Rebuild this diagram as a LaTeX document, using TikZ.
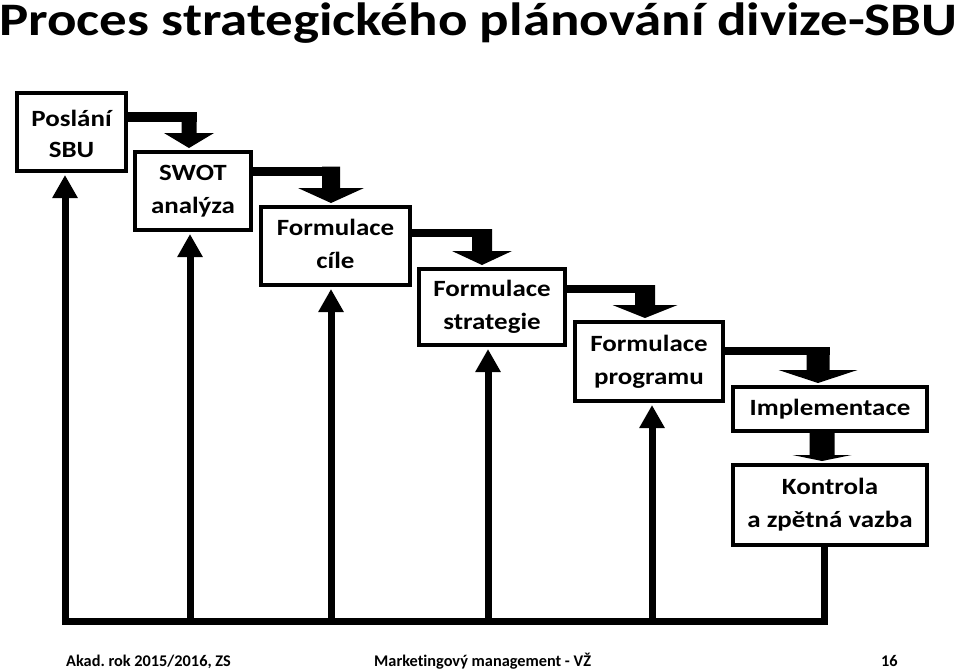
\documentclass[tikz,border=0pt]{standalone}
\usepackage{fontspec}
\usepackage{graphicx}
\setmainfont{Carlito}[Ligatures=NoCommon]
\frenchspacing
\usetikzlibrary{arrows.meta,calc}
\newcommand\stx[1]{\scalebox{1.157}[1]{#1}\rule[-5pt]{0pt}{22pt}}
\newcommand\mydconn[8]{% from, to, bar y, bar thickness, shaft x, shaft w, head w, head len
  \coordinate (tp) at ($(#2.north -| #5,0)+(0,-2)$);
  \draw[line width=#4pt] (#1.east |- 0,#3) -- (#5+#6/2,#3);
  \fill (tp) -- ($(tp)+(-#7/2,-#8)$) -- ($(tp)+(-#6/2,-#8)$) -- (#5-#6/2,#3-#4/2)
        -- (#5+#6/2,#3-#4/2) -- ($(tp)+(#6/2,-#8)$) -- ($(tp)+(#7/2,-#8)$) -- cycle;
}
\begin{document}
\begin{tikzpicture}[x=1pt,y=-1pt,
  box/.style={draw,line width=4pt,rectangle,inner sep=0pt,align=center,
    font=\bfseries\fontsize{23.3}{33}\selectfont},
  fb/.style={line width=7pt,line join=miter},
  fbtip/.style={fb,{Triangle[width=24pt,length=23pt]}-},
  foot/.style={anchor=base west,inner sep=0pt,font=\bfseries\fontsize{16.3}{20}\selectfont},
]
\useasboundingbox (0,0) rectangle (960,670);

\node[anchor=base west,inner sep=0pt,font=\bfseries\fontsize{46.6}{50}\selectfont] (title) at (-1,35) {\scalebox{1.18}[1]{Proces strategického plánování divize-SBU}};

\node[box,minimum width=109pt,minimum height=78pt] (p)  at (71.5,132) {\stx{Poslání}\rule{0pt}{25pt}\\[-1.5pt]\stx{SBU}};
\node[box,minimum width=116pt,minimum height=78pt] (s)  at (193,191) {\stx{SWOT}\\\stx{analýza}};
\node[box,minimum width=149pt,minimum height=78pt] (c)  at (335.5,246) {\stx{Formulace}\\\stx{cíle}};
\node[box,minimum width=146pt,minimum height=76pt] (st) at (492,307) {\stx{Formulace}\\\stx{strategie}};
\node[box,minimum width=148pt,minimum height=79pt] (pg) at (649,361.5) {\stx{Formulace}\\\stx{programu}};
\node[box,minimum width=194pt,minimum height=44pt] (im) at (830,409) {\stx{Implementace}};
\node[box,minimum width=194pt,minimum height=80pt] (ko) at (830,505) {\stx{Kontrola}\\\stx{a zpětná vazba}};

% forward connectors
\mydconn{p}{s}{117}{10}{189}{15}{50}{15}
\mydconn{s}{c}{171}{9}{331}{18}{66}{15}
\mydconn{c}{st}{233}{8}{482}{20}{60}{14}
\mydconn{st}{pg}{289}{8}{645}{20}{65}{13}
\mydconn{pg}{im}{351}{8}{818}{23}{79}{13}
\coordinate (tp6) at ($(ko.north -| 822,0)+(0,-2)$);
\fill (tp6) -- ++(-29.5,-6) -- ++(17,0) -- ($(im.south -| 809.5,0)$)
      -- ($(im.south -| 834.5,0)$) -- ($(tp6)+(12.5,-6)$) -- ($(tp6)+(29.5,-6)$) -- cycle;

% feedback
\coordinate (b1) at (65,621);
\coordinate (b2) at (190,621);
\coordinate (b3) at (331,621);
\coordinate (b4) at (488,621);
\coordinate (b5) at (652,621);
\coordinate (b6) at (824,621);
\draw[fbtip] ($(p.south -| b1)+(0,2)$) -- (b1) -- (b6) -- (ko.south -| b6);
\draw[fbtip] ($(s.south -| b2)+(0,2)$) -- (b2);
\draw[fbtip] ($(c.south -| b3)+(0,2)$) -- (b3);
\draw[fbtip] ($(st.south -| b4)+(0,2)$) -- (b4);
\draw[fbtip] ($(pg.south -| b5)+(0,2)$) -- (b5);

% footer
\node[foot] (ft1) at (66,666) {Akad. rok 2015/2016, ZS};
\node[foot] (ft2) at (374,666) {Marketingový management - VŽ};
\node[foot] (ft3) at (881,666) {16};
\end{tikzpicture}
\end{document}
